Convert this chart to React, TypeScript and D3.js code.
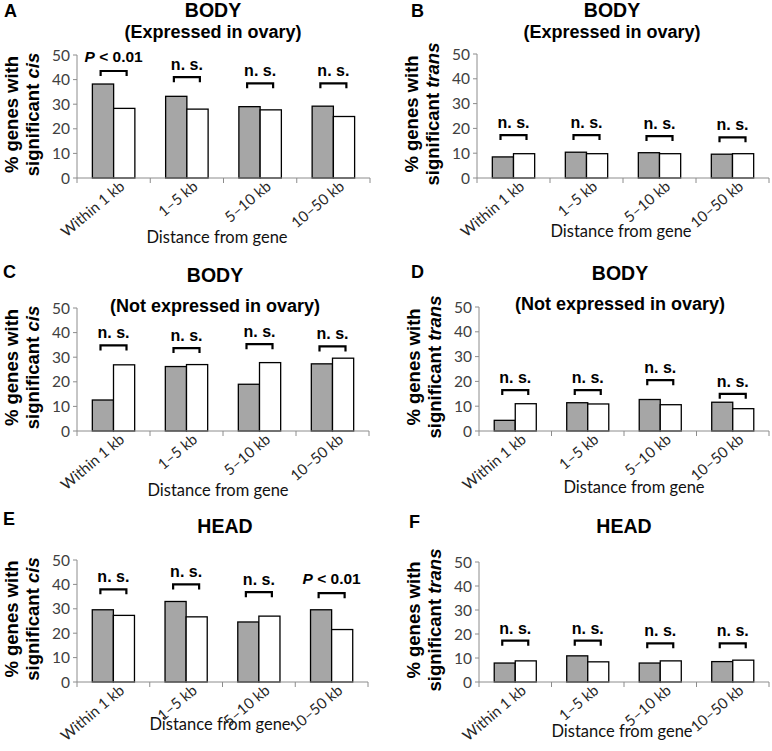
import React from "react";
import * as d3 from "d3";

// ---------- data ----------
const categories = ["Within 1 kb", "1–5 kb", "5–10 kb", "10–50 kb"];
const yTicks = [0, 10, 20, 30, 40, 50];

const grayA = [38.2, 33.2, 29.0, 29.2];
const whiteA = [28.3, 28.0, 27.7, 25.0];
const bracketA = [43.5, 41.0, 38.5, 38.5];
const labelA = ["P < 0.01", "n. s.", "n. s.", "n. s."];

const grayB = [8.5, 10.4, 10.2, 9.6];
const whiteB = [9.8, 9.8, 9.8, 9.8];
const bracketB = [17.3, 17.3, 16.9, 16.4];
const labelB = ["n. s.", "n. s.", "n. s.", "n. s."];

const grayC = [12.6, 26.2, 19.0, 27.3];
const whiteC = [26.9, 27.0, 27.8, 29.6];
const bracketC = [34.8, 33.7, 35.3, 34.4];
const labelC = ["n. s.", "n. s.", "n. s.", "n. s."];

const grayD = [4.3, 11.4, 12.7, 11.6];
const whiteD = [11.0, 10.9, 10.6, 9.0];
const bracketD = [16.5, 16.5, 20.5, 15.0];
const labelD = ["n. s.", "n. s.", "n. s.", "n. s."];

const grayE = [29.6, 33.0, 24.6, 29.6];
const whiteE = [27.3, 26.7, 27.0, 21.5];
const bracketE = [38.0, 40.0, 36.8, 36.4];
const labelE = ["n. s.", "n. s.", "n. s.", "P < 0.01"];

const grayF = [7.9, 10.9, 7.9, 8.5];
const whiteF = [8.8, 8.4, 8.8, 9.1];
const bracketF = [17.2, 17.2, 16.1, 16.1];
const labelF = ["n. s.", "n. s.", "n. s.", "n. s."];

// ---------- layout ----------
const W = 772;
const H = 751;
const SANS = "'Liberation Sans', Arial, sans-serif";
const TICKFONT = "Lato, 'Open Sans', sans-serif";

const panels = [
  { letter: "A", title: "BODY", subtitle: "(Expressed in ovary)", kind: "cis", gray: grayA, white: whiteA, br: bracketA, lab: labelA,
    left: 77, right: 370, top: 55, bottom: 178, lx: 4, ly: 17, tx: 213, ty1: 17, ty2: 38, xtx: 217, xty: 243 },
  { letter: "B", title: "BODY", subtitle: "(Expressed in ovary)", kind: "trans", gray: grayB, white: whiteB, br: bracketB, lab: labelB,
    left: 477, right: 769, top: 54, bottom: 178, lx: 411, ly: 17, tx: 612, ty1: 17, ty2: 38, xtx: 621, xty: 237 },
  { letter: "C", title: "BODY", subtitle: "(Not expressed in ovary)", kind: "cis", gray: grayC, white: whiteC, br: bracketC, lab: labelC,
    left: 77, right: 369, top: 308, bottom: 431, lx: 3, ly: 278, tx: 215, ty1: 282, ty2: 312, xtx: 218, xty: 496 },
  { letter: "D", title: "BODY", subtitle: "(Not expressed in ovary)", kind: "trans", gray: grayD, white: whiteD, br: bracketD, lab: labelD,
    left: 479, right: 769, top: 307, bottom: 431, lx: 411, ly: 278, tx: 620, ty1: 280, ty2: 310, xtx: 634, xty: 493 },
  { letter: "E", title: "HEAD", subtitle: "", kind: "cis", gray: grayE, white: whiteE, br: bracketE, lab: labelE,
    left: 77, right: 368, top: 560, bottom: 682, lx: 3, ly: 525, tx: 225, ty1: 533, ty2: 0, xtx: 220, xty: 730 },
  { letter: "F", title: "HEAD", subtitle: "", kind: "trans", gray: grayF, white: whiteF, br: bracketF, lab: labelF,
    left: 479, right: 769, top: 562, bottom: 682, lx: 409, ly: 528, tx: 624, ty1: 533, ty2: 0, xtx: 622, xty: 737 },
];

function SigLabel({ text, x, y }: { text: string; x: number; y: number }) {
  if (text.startsWith("P")) {
    return (
      <text x={x} y={y} textAnchor="middle" fontFamily={SANS} fontWeight="bold" fontSize={15.5} fill="#000">
        <tspan fontStyle="italic">P</tspan>
        <tspan>{text.slice(1)}</tspan>
      </text>
    );
  }
  return (
    <text x={x} y={y} textAnchor="middle" fontFamily={SANS} fontWeight="bold" fontSize={16} fill="#000">
      {text}
    </text>
  );
}

function Panel({ p }: { p: any }) {
  const x0 = d3.scaleBand<string>().domain(categories).range([p.left, p.right]).paddingInner(0.42).paddingOuter(0.21);
  const x1 = d3.scaleBand<string>().domain(["gray", "white"]).range([0, x0.bandwidth()]);
  const y = d3.scaleLinear().domain([0, 50]).range([p.bottom, p.top]);
  const step = x0.step();
  const bounds = d3.range(categories.length + 1).map((i) => p.left + i * step);
  const axisColor = "#8c8c8c";
  const midY = (p.top + p.bottom) / 2 - 2;

  return (
    <g>
      <text x={p.lx} y={p.ly} fontFamily={SANS} fontWeight="bold" fontSize={18}>{p.letter}</text>
      <text x={p.tx} y={p.ty1} textAnchor="middle" fontFamily={SANS} fontWeight="bold" fontSize={19.5}>{p.title}</text>
      {p.subtitle && (
        <text x={p.tx} y={p.ty2} textAnchor="middle" fontFamily={SANS} fontWeight="bold" fontSize={18}>{p.subtitle}</text>
      )}
      <text transform={`translate(${p.left - 59},${midY}) rotate(-90)`} textAnchor="middle" fontFamily={SANS} fontWeight="bold" fontSize={18.5}>
        % genes with
      </text>
      <text transform={`translate(${p.left - 38},${midY}) rotate(-90)`} textAnchor="middle" fontFamily={SANS} fontWeight="bold" fontSize={18.5}>
        significant <tspan fontStyle="italic">{p.kind}</tspan>
      </text>
      <line x1={p.left} x2={p.left} y1={y(0)} y2={y(50)} stroke={axisColor} strokeWidth={1} />
      {yTicks.map((t) => (
        <g key={t}>
          <line x1={p.left - 4} x2={p.left} y1={y(t)} y2={y(t)} stroke={axisColor} strokeWidth={1} />
          <text x={p.left - 7} y={y(t)} dy="0.36em" textAnchor="end" fontFamily={TICKFONT} fontSize={15.5} fill="#404040">{t}</text>
        </g>
      ))}
      {categories.map((c, i) => {
        const gx = x0(c)!;
        return (
          <g key={c}>
            <rect x={gx + x1("gray")!} y={y(p.gray[i])} width={x1.bandwidth()} height={y(0) - y(p.gray[i])} fill="#a6a6a6" stroke="#000" strokeWidth={1.3} />
            <rect x={gx + x1("white")!} y={y(p.white[i])} width={x1.bandwidth()} height={y(0) - y(p.white[i])} fill="#fff" stroke="#000" strokeWidth={1.3} />
          </g>
        );
      })}
      <line x1={p.left} x2={p.right} y1={y(0)} y2={y(0)} stroke={axisColor} strokeWidth={1} />
      {bounds.map((b, i) => (
        <line key={i} x1={b} x2={b} y1={y(0)} y2={y(0) + 5} stroke={axisColor} strokeWidth={1} />
      ))}
      {categories.map((c) => {
        const cx = x0(c)! + x0.bandwidth() / 2;
        const ax = cx + 12;
        const ay = y(0) + 10;
        return (
          <text key={c} x={ax} y={ay} transform={`rotate(-40,${ax},${ay})`} textAnchor="end" fontFamily={TICKFONT} fontSize={15} fill="#262626">
            {c}
          </text>
        );
      })}
      {categories.map((c, i) => {
        const cx = x0(c)! + x0.bandwidth() / 2;
        const by = y(p.br[i]);
        const hw = 13;
        return (
          <g key={c}>
            <path d={`M${cx - hw},${by + 5}V${by}H${cx + hw}V${by + 5}`} fill="none" stroke="#000" strokeWidth={2.2} />
            <SigLabel text={p.lab[i]} x={cx} y={by - (p.lab[i].startsWith("P") ? 9 : 7)} />
          </g>
        );
      })}
      <text x={p.xtx} y={p.xty} textAnchor="middle" fontFamily={TICKFONT} fontSize={16.5} fill="#111">Distance from gene</text>
    </g>
  );
}

export default function App() {
  return (
    <svg width={W} height={H} viewBox={`0 0 ${W} ${H}`} style={{ position: "absolute", left: 0, top: 0, background: "#fff" }}>
      <rect width={W} height={H} fill="#fff" />
      {panels.map((p) => (
        <Panel key={p.letter} p={p} />
      ))}
    </svg>
  );
}
